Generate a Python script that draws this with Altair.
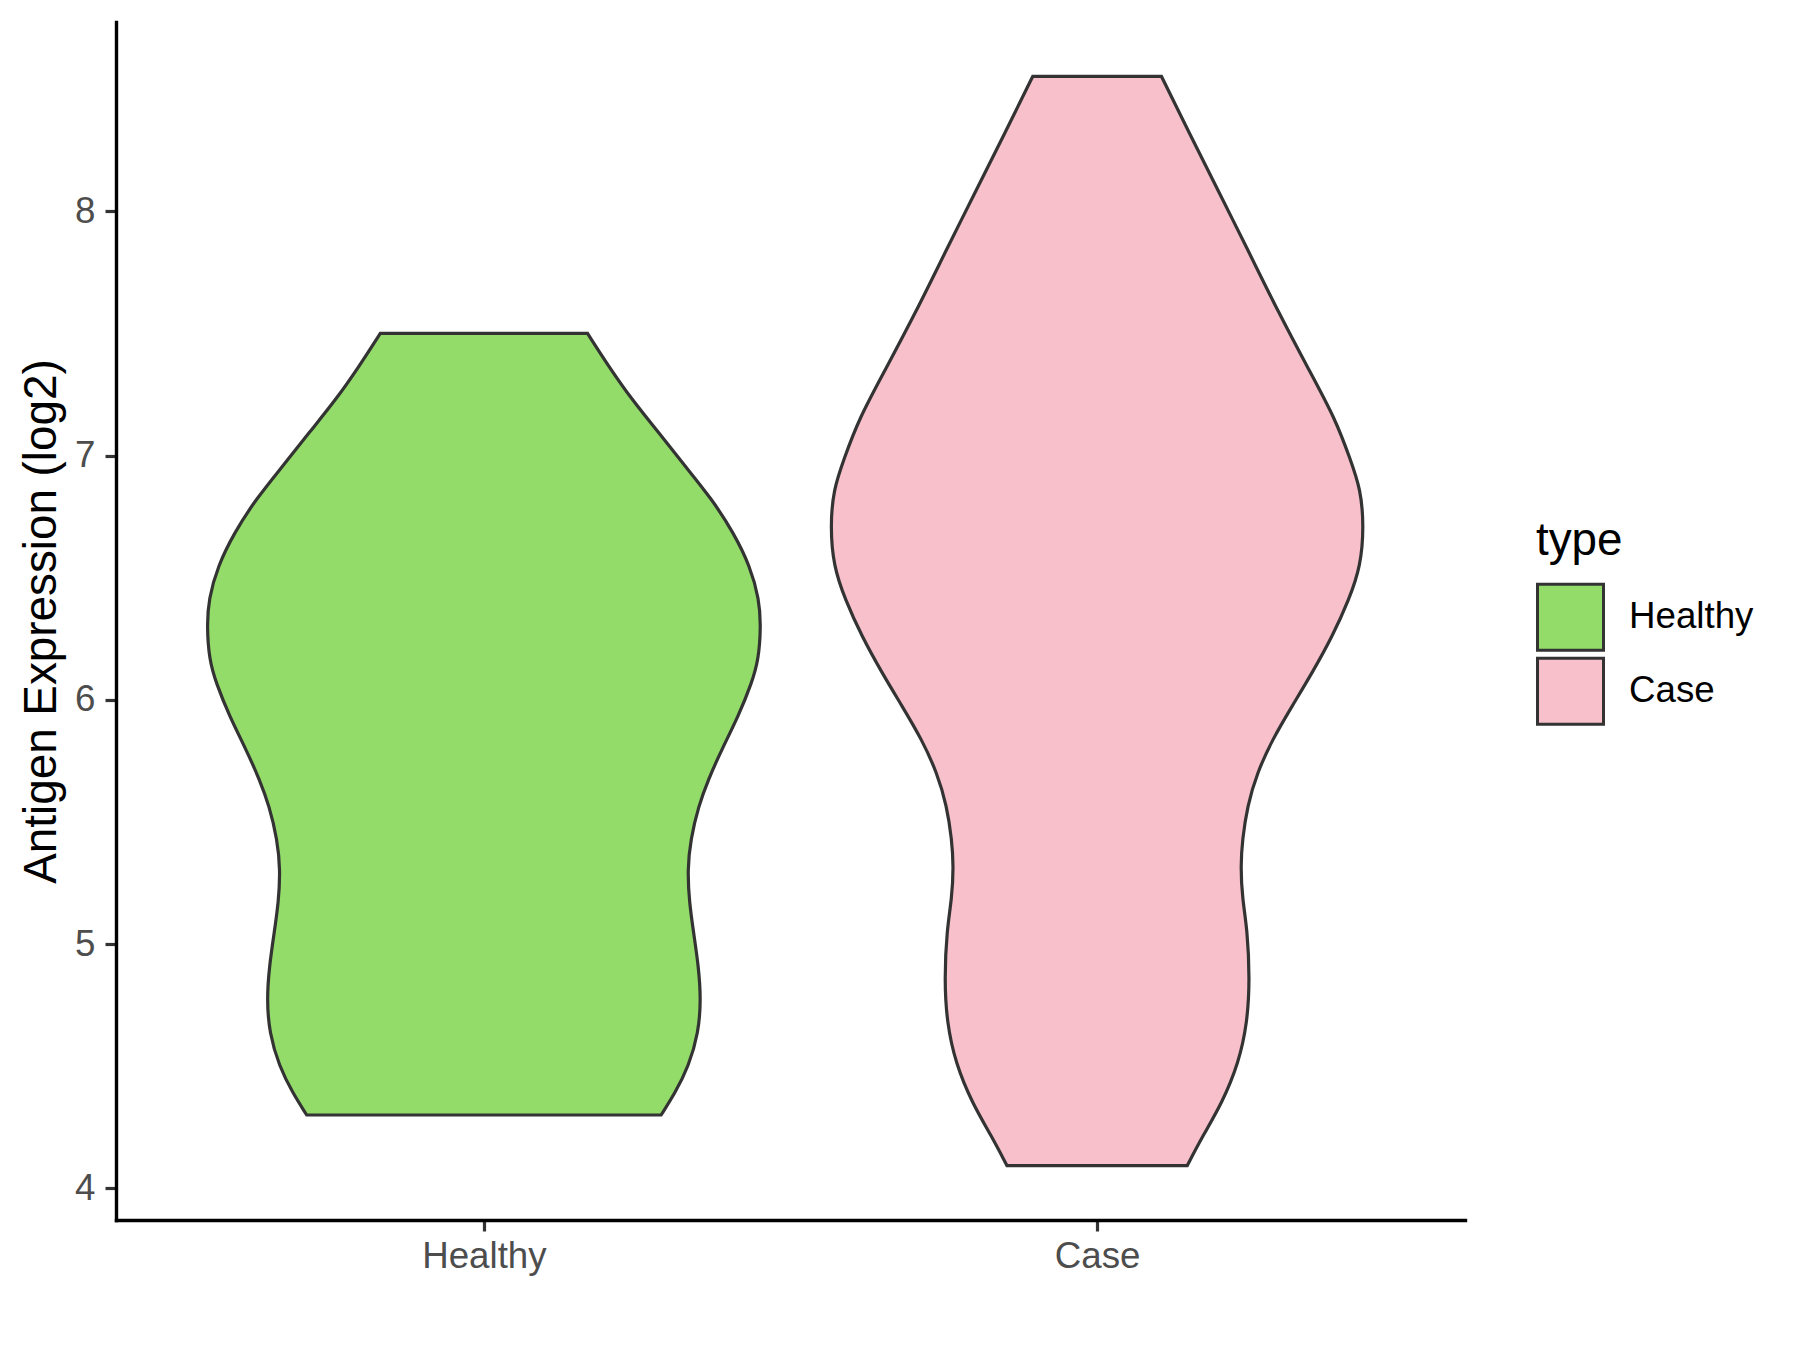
import altair as alt
import pandas as pd

# ---- data ----
categories = ["Healthy", "Case"]
fill_colors = ["#94DC6A", "#F7C0CB"]

# violin outline: expression value (log2) and half-width (category units)
healthy_y = [4.300, 4.391, 4.500, 4.637, 4.773, 4.909, 5.046, 5.169, 5.305, 5.428,
             5.565, 5.674, 5.797, 5.933, 6.070, 6.165, 6.302, 6.411, 6.548, 6.684,
             6.821, 6.957, 7.094, 7.230, 7.367, 7.500]
healthy_w = [0.289, 0.312, 0.334, 0.350, 0.354, 0.350, 0.342, 0.335, 0.332, 0.337,
             0.350, 0.366, 0.388, 0.415, 0.437, 0.448, 0.4517, 0.449, 0.434, 0.407,
             0.372, 0.328, 0.285, 0.241, 0.203, 0.169]

case_y = [4.093, 4.213, 4.350, 4.514, 4.678, 4.855, 5.060, 5.183, 5.319, 5.428,
          5.565, 5.701, 5.838, 5.974, 6.111, 6.261, 6.411, 6.548, 6.711, 6.861,
          6.984, 7.148, 7.353, 7.585, 7.831, 8.077, 8.322, 8.552]
case_w = [0.147, 0.172, 0.204, 0.231, 0.245, 0.249, 0.245, 0.237, 0.234, 0.237,
          0.245, 0.261, 0.286, 0.318, 0.351, 0.384, 0.411, 0.430, 0.435, 0.430,
          0.413, 0.389, 0.345, 0.296, 0.248, 0.199, 0.150, 0.105]

y_ticks = [4, 5, 6, 7, 8]

# ---- build table ----
rows = []
for i, (cat, ys, ws) in enumerate(zip(categories, [healthy_y, case_y], [healthy_w, case_w])):
    pos = i + 1
    for y, w in zip(ys, ws):
        rows.append({"type": cat, "value": y, "lo": pos - w, "hi": pos + w})
df = pd.DataFrame(rows).sort_values(["type", "value"]).reset_index(drop=True)

all_y = healthy_y + case_y
span = max(all_y) - min(all_y)
y_dom = [min(all_y) - 0.05 * span, max(all_y) + 0.05 * span]

FONT = "Liberation Sans"
label_expr = " : ".join(
    [f"datum.value == {i + 1} ? '{c}'" for i, c in enumerate(categories[:-1])] + [f"'{categories[-1]}'"]
)

chart = alt.Chart(df).mark_area(
    orient="horizontal", interpolate="basis",
    stroke="#333333", strokeWidth=3.2, opacity=1, strokeJoin="miter"
).encode(
    y=alt.Y("value:Q",
            scale=alt.Scale(domain=y_dom, nice=False, zero=False),
            axis=alt.Axis(values=y_ticks, title="Antigen Expression (log2)",
                          labelPadding=10, titlePadding=9)),
    x=alt.X("lo:Q",
            scale=alt.Scale(domain=[0.4, len(categories) + 0.6], nice=False, zero=False),
            axis=alt.Axis(values=list(range(1, len(categories) + 1)), labelExpr=label_expr,
                          title=None, labelPadding=7)),
    x2="hi:Q",
    fill=alt.Fill("type:N",
                  scale=alt.Scale(domain=categories, range=fill_colors),
                  legend=alt.Legend(
                      title="type", orient="none", legendX=1420, legendY=497,
                      symbolType="square", symbolSize=4356,
                      symbolStrokeColor="#333333", symbolStrokeWidth=3, symbolOpacity=1,
                      labelFontSize=36.7, labelFont=FONT, labelColor="black",
                      titleFontSize=45.8, titleFont=FONT, titleColor="black",
                      titleFontWeight="normal", labelOffset=24, rowPadding=-5,
                      titlePadding=18, padding=0)),
).properties(
    width=1349, height=1198,
    autosize=alt.AutoSizeParams(type="none"),
    padding={"left": 108, "top": 14, "right": 320, "bottom": 110},
).configure_view(
    stroke=None
).configure_axis(
    grid=False,
    domainColor="black", domainWidth=3.4, domainCap="square",
    tickColor="#333333", tickWidth=3.2, tickSize=11,
    labelFont=FONT, labelFontSize=36.7, labelColor="#4D4D4D",
    titleFont=FONT, titleFontSize=45.8, titleColor="black", titleFontWeight="normal",
)

chart.save("out.html", embed_options={"renderer": "svg", "actions": False})
